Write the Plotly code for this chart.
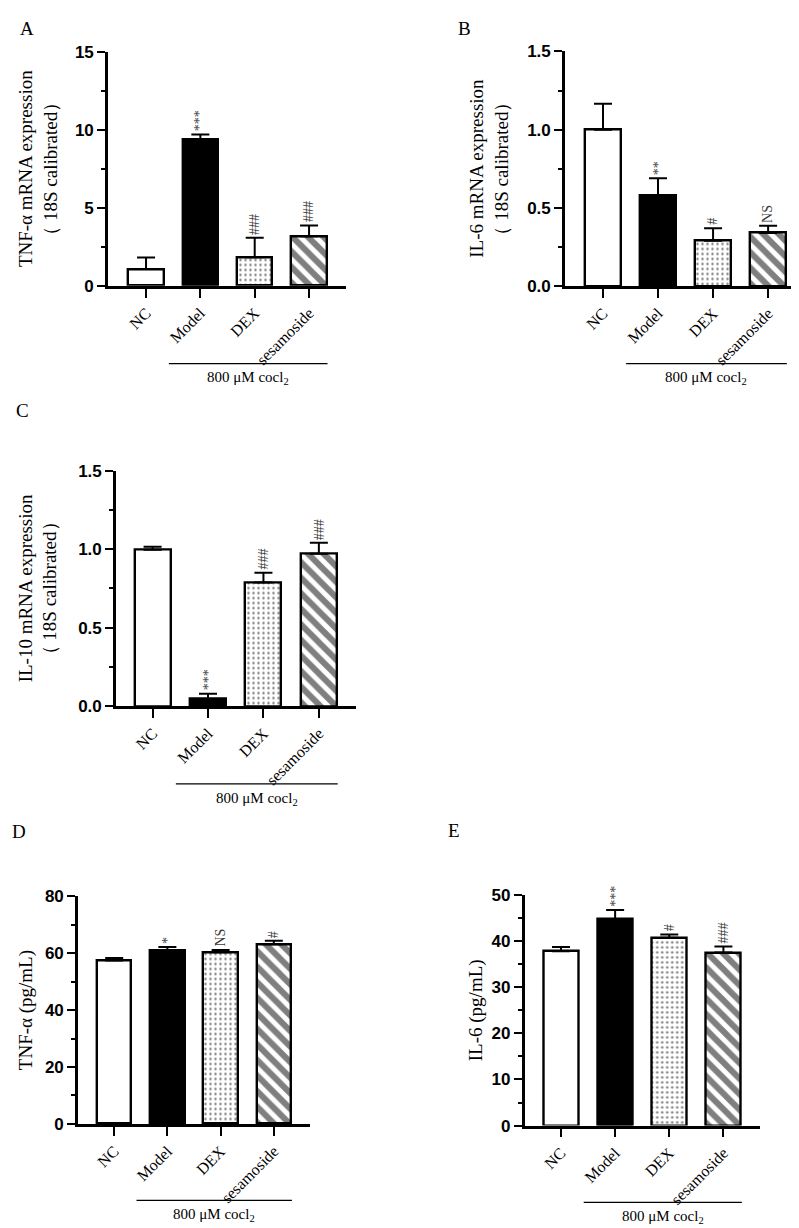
import plotly.graph_objects as go

W, H = 799, 1228

groups = ["NC", "Model", "DEX", "sesamoside"]

# Panel A: TNF-α mRNA
a_vals = [1.08, 9.41, 1.84, 3.18]
a_err = [0.74, 0.32, 1.24, 0.70]
a_sig = ["", "***", "###", "###"]
a_ticks = [0, 5, 10, 15]
a_ticktext = ["0", "5", "10", "15"]

# Panel B: IL-6 mRNA
b_vals = [1.00, 0.58, 0.29, 0.34]
b_err = [0.166, 0.11, 0.08, 0.045]
b_sig = ["", "**", "#", "NS"]
b_ticks = [0, 0.5, 1.0, 1.5]
b_ticktext = ["0.0", "0.5", "1.0", "1.5"]

# Panel C: IL-10 mRNA
c_vals = [0.996, 0.046, 0.788, 0.971]
c_err = [0.019, 0.033, 0.062, 0.069]
c_sig = ["", "***", "###", "###"]
c_ticks = [0, 0.5, 1.0, 1.5]
c_ticktext = ["0.0", "0.5", "1.0", "1.5"]

# Panel D: TNF-α protein
d_vals = [57.5, 61.0, 60.4, 63.2]
d_err = [0.9, 1.2, 0.8, 1.2]
d_sig = ["", "*", "NS", "#"]
d_ticks = [0, 20, 40, 60, 80]
d_ticktext = ["0", "20", "40", "60", "80"]

# Panel E: IL-6 protein
e_vals = [37.8, 44.7, 40.7, 37.5]
e_err = [0.9, 2.0, 0.7, 1.3]
e_sig = ["", "***", "#", "###"]
e_ticks = [0, 10, 20, 30, 40, 50]
e_ticktext = ["0", "10", "20", "30", "40", "50"]

fig = go.Figure()

SERIF = "Liberation Serif, Times New Roman, serif"
SANS = "Liberation Sans, Arial, sans-serif"


def px_x(p):
    return p / W


def px_y(p):
    return 1 - p / H


panels = [
    dict(n=1, vals=a_vals, err=a_err, sig=a_sig, ticks=a_ticks, ttext=a_ticktext,
         xd=(100, 338), yd=(36, 273), xr=(-0.70, 3.68), yr=(0, 15),
         title="TNF-α mRNA expression<br>（ 18S calibrated）", tx=30,
         letter="A", lpos=(10, 12), bry=352),
    dict(n=2, vals=b_vals, err=b_err, sig=b_sig, ticks=b_ticks, ttext=b_ticktext,
         xd=(557, 797), yd=(35, 273.3), xr=(-0.69, 3.67), yr=(0, 1.5),
         title="IL-6 mRNA expression<br>（ 18S calibrated）", tx=481,
         letter="B", lpos=(448, 12), bry=352),
    dict(n=3, vals=c_vals, err=c_err, sig=c_sig, ticks=c_ticks, ttext=c_ticktext,
         xd=(108, 348), yd=(460.7, 700), xr=(-0.66, 3.67), yr=(0, 1.5),
         title="IL-10 mRNA expression<br>（ 18S calibrated）", tx=30,
         letter="C", lpos=(6, 400), bry=779),
    dict(n=4, vals=d_vals, err=d_err, sig=d_sig, ticks=d_ticks, ttext=d_ticktext,
         xd=(70, 302), yd=(893.3, 1124.3), xr=(-0.68, 3.68), yr=(0, 80),
         title="TNF-α (pg/mL)", tx=18,
         letter="D", lpos=(2, 827), bry=1202),
    dict(n=5, vals=e_vals, err=e_err, sig=e_sig, ticks=e_ticks, ttext=e_ticktext,
         xd=(516.7, 751.7), yd=(891.7, 1126), xr=(-0.67, 3.67), yr=(0, 50),
         title="IL-6 (pg/mL)", tx=468,
         letter="E", lpos=(438, 826), bry=1204),
]

fills = ["white", "black", "white", "white"]
shapes_pat = ["", "", ".", "\\"]
pat_size = [8, 8, 5, 11]
pat_sol = [0.3, 0.3, 0.18, 0.55]

annotations = []
shapes = []

for p in panels:
    n = p["n"]
    xa = "x" if n == 1 else f"x{n}"
    ya = "y" if n == 1 else f"y{n}"
    for i, g in enumerate(groups):
        fig.add_trace(go.Bar(
            x=[i], y=[p["vals"][i]], width=0.65,
            xaxis=xa, yaxis=ya, showlegend=False,
            marker=dict(color=fills[i], line=dict(color="black", width=2.4),
                        pattern=dict(shape=shapes_pat[i], fgcolor="black", bgcolor=fills[i],
                                     size=pat_size[i], solidity=pat_sol[i], fillmode="overlay")),
            error_y=dict(type="data", symmetric=False, array=[p["err"][i]], arrayminus=[0],
                         color="black", thickness=2, width=9),
        ))
        if p["sig"][i]:
            annotations.append(dict(
                x=i, y=p["vals"][i] + p["err"][i], xref=xa, yref=ya,
                text=p["sig"][i], textangle=-90, showarrow=False,
                xanchor="center", yanchor="bottom", yshift=1,
                font=dict(family=SERIF, size=14, color="#3a3a3a")))
    key = "" if n == 1 else str(n)
    step = p["ticks"][1] - p["ticks"][0]
    fig.layout["xaxis" + key] = dict(
        domain=[px_x(p["xd"][0]), px_x(p["xd"][1])], anchor=ya, range=list(p["xr"]),
        tickmode="array", tickvals=[0, 1, 2, 3], ticktext=groups, tickangle=-45,
        ticks="outside", ticklen=9, tickwidth=2.4, tickcolor="black",
        showline=True, linecolor="black", linewidth=2.6, showgrid=False, zeroline=False,
        tickfont=dict(family=SERIF, size=16, color="black"), fixedrange=True)
    fig.layout["yaxis" + key] = dict(
        domain=[px_y(p["yd"][1]), px_y(p["yd"][0])], anchor=xa, range=list(p["yr"]),
        tickmode="array", tickvals=p["ticks"],
        ticktext=["<b>" + t + "</b>" for t in p["ttext"]],
        ticks="outside", ticklen=8, tickwidth=2.4, tickcolor="black",
        minor=dict(ticks="outside", ticklen=4, tickwidth=2, tickcolor="black",
                   tickmode="linear", dtick=step / 2, tick0=0),
        showline=True, linecolor="black", linewidth=2.6, showgrid=False, zeroline=False,
        tickfont=dict(family=SANS, size=17, color="black", weight="bold"), fixedrange=True)
    annotations.append(dict(
        x=px_x(p["tx"]), y=px_y((p["yd"][0] + p["yd"][1]) / 2), xref="paper", yref="paper",
        text=p["title"], textangle=-90, showarrow=False, xanchor="center", yanchor="middle",
        font=dict(family=SERIF, size=19, color="black")))
    annotations.append(dict(
        x=px_x(p["lpos"][0]), y=px_y(p["lpos"][1]), xref="paper", yref="paper",
        text=p["letter"], showarrow=False, xanchor="left", yanchor="middle",
        font=dict(family=SERIF, size=19, color="black")))
    shapes.append(dict(type="line", xref=xa, yref="paper", x0=0.42, x1=3.34,
                       y0=px_y(p["bry"]), y1=px_y(p["bry"]),
                       line=dict(color="black", width=1.2)))
    annotations.append(dict(
        x=1.88, y=px_y(p["bry"] + 15), xref=xa, yref="paper",
        text="800 μM cocl<sub>2</sub>", showarrow=False, xanchor="center", yanchor="middle",
        font=dict(family=SERIF, size=15, color="black")))

fig.update_layout(
    width=W, height=H, margin=dict(l=0, r=0, t=0, b=0),
    paper_bgcolor="white", plot_bgcolor="white",
    annotations=annotations, shapes=shapes, bargap=0,
)

fig.write_html("out.html")
